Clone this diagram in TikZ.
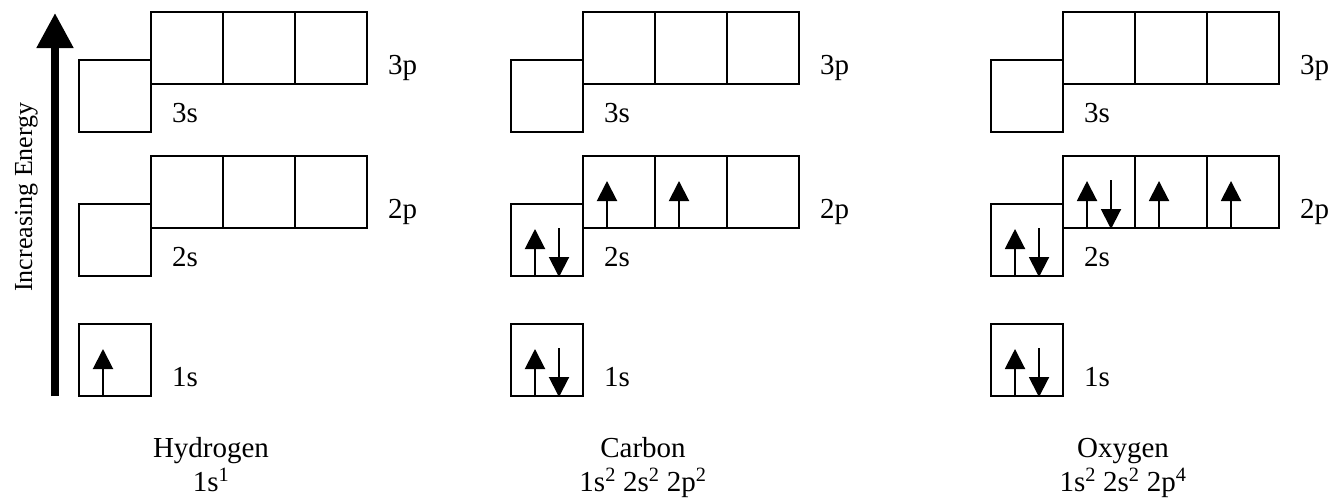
\documentclass[tikz,border=0pt]{standalone}
\usepackage{fontspec}
\setmainfont{Liberation Serif}
\usetikzlibrary{arrows.meta}
\tikzset{
  orb/.style={draw, line width=2pt, minimum size=72pt, inner sep=0pt},
  lvl/.style={font=\fontsize{29}{34}\selectfont, inner sep=0pt, anchor=base west},
  elem/.style={font=\fontsize{29}{34}\selectfont, align=center, inner sep=0pt, anchor=base},
  spin/.style={line width=2pt, -{Triangle[width=20pt,length=20pt]}}
}
\begin{document}
\begin{tikzpicture}[x=1pt, y=-1pt]
            \useasboundingbox (0,0) rectangle (1332,498);

            % Energy axis
            \coordinate (ebot) at (55,396);
            \coordinate (etop) at (55,13);
            \draw[line width=8pt, -{Triangle[width=35pt,length=35pt]}] (ebot) -- (etop);
            \node[font=\fontsize{26}{30}\selectfont, rotate=90, anchor=base, inner sep=0pt] (elabel) at (32,197) {Increasing Energy};

            % Hydrogen
            \node[orb] (h3s) at (115,96) {};
            \node[orb] (h3p1) at (187,48) {};
            \node[orb] (h3p2) at (259,48) {};
            \node[orb] (h3p3) at (331,48) {};
            \node[orb] (h2s) at (115,240) {};
            \node[orb] (h2p1) at (187,192) {};
            \node[orb] (h2p2) at (259,192) {};
            \node[orb] (h2p3) at (331,192) {};
            \node[orb] (h1s) at (115,360) {};

            \node[lvl] (h3slbl) at ([xshift=20pt, yshift=11pt]h3s.south east) {3s};
            \node[lvl] (h3plbl) at ([xshift=20pt, yshift=11pt]h3p3.south east) {3p};
            \node[lvl] (h2slbl) at ([xshift=20pt, yshift=11pt]h2s.south east) {2s};
            \node[lvl] (h2plbl) at ([xshift=20pt, yshift=11pt]h2p3.south east) {2p};
            \node[lvl] (h1slbl) at ([xshift=20pt, yshift=11pt]h1s.south east) {1s};

            \draw[spin] ([xshift=-12pt]h1s.south) -- ([xshift=-12pt, yshift=11pt]h1s.center);

            \node[elem] (hname) at (211,491) {Hydrogen\\1s\textsuperscript{1}};

            % Carbon
            \node[orb] (c3s) at (547,96) {};
            \node[orb] (c3p1) at (619,48) {};
            \node[orb] (c3p2) at (691,48) {};
            \node[orb] (c3p3) at (763,48) {};
            \node[orb] (c2s) at (547,240) {};
            \node[orb] (c2p1) at (619,192) {};
            \node[orb] (c2p2) at (691,192) {};
            \node[orb] (c2p3) at (763,192) {};
            \node[orb] (c1s) at (547,360) {};

            \node[lvl] (c3slbl) at ([xshift=20pt, yshift=11pt]c3s.south east) {3s};
            \node[lvl] (c3plbl) at ([xshift=20pt, yshift=11pt]c3p3.south east) {3p};
            \node[lvl] (c2slbl) at ([xshift=20pt, yshift=11pt]c2s.south east) {2s};
            \node[lvl] (c2plbl) at ([xshift=20pt, yshift=11pt]c2p3.south east) {2p};
            \node[lvl] (c1slbl) at ([xshift=20pt, yshift=11pt]c1s.south east) {1s};

            \draw[spin] ([xshift=-12pt]c1s.south) -- ([xshift=-12pt, yshift=11pt]c1s.center);
            \draw[spin] ([xshift=12pt, yshift=12pt]c1s.center) -- ([xshift=12pt]c1s.south);
            \draw[spin] ([xshift=-12pt]c2s.south) -- ([xshift=-12pt, yshift=11pt]c2s.center);
            \draw[spin] ([xshift=12pt, yshift=12pt]c2s.center) -- ([xshift=12pt]c2s.south);
            \draw[spin] ([xshift=-12pt]c2p1.south) -- ([xshift=-12pt, yshift=11pt]c2p1.center);
            \draw[spin] ([xshift=-12pt]c2p2.south) -- ([xshift=-12pt, yshift=11pt]c2p2.center);

            \node[elem] (cname) at (643,491) {Carbon\\1s\textsuperscript{2} 2s\textsuperscript{2} 2p\textsuperscript{2}};

            % Oxygen
            \node[orb] (o3s) at (1027,96) {};
            \node[orb] (o3p1) at (1099,48) {};
            \node[orb] (o3p2) at (1171,48) {};
            \node[orb] (o3p3) at (1243,48) {};
            \node[orb] (o2s) at (1027,240) {};
            \node[orb] (o2p1) at (1099,192) {};
            \node[orb] (o2p2) at (1171,192) {};
            \node[orb] (o2p3) at (1243,192) {};
            \node[orb] (o1s) at (1027,360) {};

            \node[lvl] (o3slbl) at ([xshift=20pt, yshift=11pt]o3s.south east) {3s};
            \node[lvl] (o3plbl) at ([xshift=20pt, yshift=11pt]o3p3.south east) {3p};
            \node[lvl] (o2slbl) at ([xshift=20pt, yshift=11pt]o2s.south east) {2s};
            \node[lvl] (o2plbl) at ([xshift=20pt, yshift=11pt]o2p3.south east) {2p};
            \node[lvl] (o1slbl) at ([xshift=20pt, yshift=11pt]o1s.south east) {1s};

            \draw[spin] ([xshift=-12pt]o1s.south) -- ([xshift=-12pt, yshift=11pt]o1s.center);
            \draw[spin] ([xshift=12pt, yshift=12pt]o1s.center) -- ([xshift=12pt]o1s.south);
            \draw[spin] ([xshift=-12pt]o2s.south) -- ([xshift=-12pt, yshift=11pt]o2s.center);
            \draw[spin] ([xshift=12pt, yshift=12pt]o2s.center) -- ([xshift=12pt]o2s.south);
            \draw[spin] ([xshift=-12pt]o2p1.south) -- ([xshift=-12pt, yshift=11pt]o2p1.center);
            \draw[spin] ([xshift=12pt, yshift=12pt]o2p1.center) -- ([xshift=12pt]o2p1.south);
            \draw[spin] ([xshift=-12pt]o2p2.south) -- ([xshift=-12pt, yshift=11pt]o2p2.center);
            \draw[spin] ([xshift=-12pt]o2p3.south) -- ([xshift=-12pt, yshift=11pt]o2p3.center);

            \node[elem] (oname) at (1123,491) {Oxygen\\1s\textsuperscript{2} 2s\textsuperscript{2} 2p\textsuperscript{4}};

\end{tikzpicture}
\end{document}
